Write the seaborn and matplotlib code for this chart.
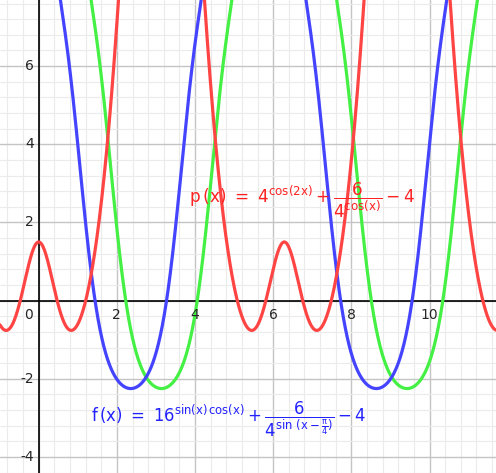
import numpy as np
import pandas as pd
import seaborn as sns
import matplotlib.pyplot as plt
from matplotlib.ticker import MultipleLocator

# --- data: the three functions shown in the figure ---
x = np.linspace(-1.05, 11.8, 3000)
p_vals = 4 ** np.cos(2 * x) + 6 / 4 ** np.cos(x) - 4                      # red, p(x)
f_vals = 16 ** (np.sin(x) * np.cos(x)) + 6 / 4 ** np.sin(x - np.pi / 4) - 4  # blue, f(x)
g_vals = 16 ** (np.sin(x - np.pi / 4) * np.cos(x - np.pi / 4)) + 6 / 4 ** np.sin(x - np.pi / 2) - 4  # green, f(x - pi/4)

x_ticks = [2, 4, 6, 8, 10]
y_ticks = [-4, -2, 2, 4, 6]

df = pd.DataFrame({"x": np.tile(x, 3),
                   "y": np.concatenate([g_vals, f_vals, p_vals]),
                   "fn": ["g"] * len(x) + ["f"] * len(x) + ["p"] * len(x)})

sns.set_style("white")
plt.rcParams["mathtext.fontset"] = "dejavusans"

fig = plt.figure(figsize=(4.96, 4.73), dpi=100)
ax = fig.add_axes([0, 0, 1, 1])

colors = {"g": "#44f044", "f": "#4444ff", "p": "#ff4444"}
sns.lineplot(data=df, x="x", y="y", hue="fn", palette=colors, linewidth=2.3,
             legend=False, ax=ax, sort=False, estimator=None)

ax.set_xlim(-0.99, 11.70)
ax.set_ylim(-4.41, 7.69)

# grid: major every 2, minor every 0.4
ax.xaxis.set_major_locator(MultipleLocator(2))
ax.yaxis.set_major_locator(MultipleLocator(2))
ax.xaxis.set_minor_locator(MultipleLocator(0.4))
ax.yaxis.set_minor_locator(MultipleLocator(0.4))
ax.grid(which="major", color="#c4c4c4", linewidth=1.0, zorder=0)
ax.grid(which="minor", color="#ebebeb", linewidth=0.8, zorder=0)
ax.set_axisbelow(True)
ax.tick_params(which="both", length=0, labelbottom=False, labelleft=False)
for s in ax.spines.values():
    s.set_visible(False)
ax.set_xlabel("")
ax.set_ylabel("")

# axes through origin
ax.axhline(0, color="black", linewidth=1.2, zorder=1)
ax.axvline(0, color="black", linewidth=1.2, zorder=1)

# tick labels drawn GeoGebra-style
for t in x_ticks:
    ax.text(t, -0.18, str(t), ha="center", va="top", fontsize=10)
ax.text(-0.15, -0.18, "0", ha="right", va="top", fontsize=10)
for t in y_ticks:
    ax.text(-0.12, t, "-" + str(-t) if t < 0 else str(t),
            ha="right", va="center", fontsize=10)

ax.text(6.75, 2.55, r"$\mathrm{p\,(x)\ =\ 4^{\cos(2x)}+\dfrac{6}{4^{\cos(x)}}-4}$",
        color="#ff2222", fontsize=12.2, ha="center", va="center")
ax.text(4.85, -3.05,
        r"$\mathrm{f\,(x)\ =\ 16^{\sin(x)\,\cos(x)}+\dfrac{6}{4^{\sin\,(x-\frac{\pi}{4})}}-4}$",
        color="#2222ff", fontsize=11.9, ha="center", va="center")

fig.savefig("out.png", dpi=100)
